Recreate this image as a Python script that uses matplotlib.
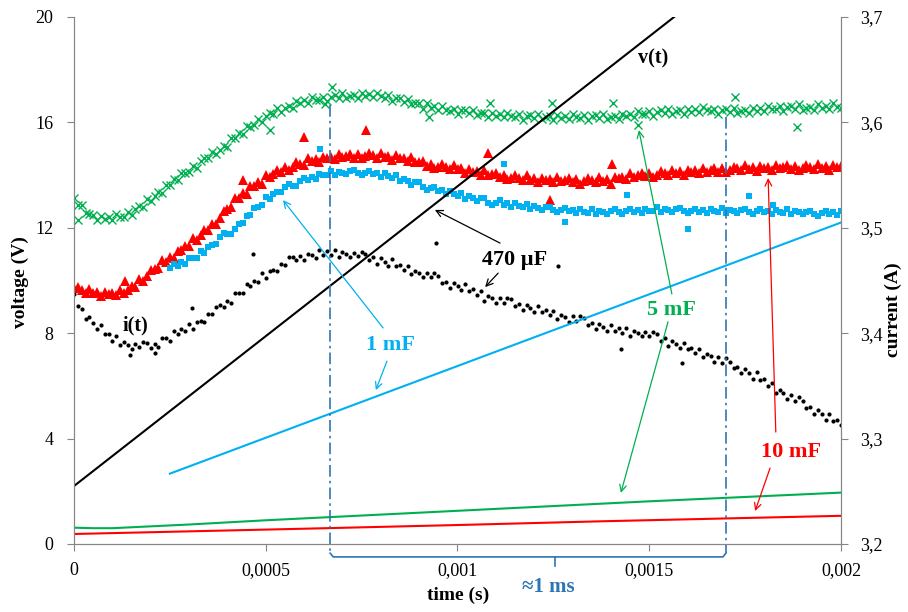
import numpy as np
import matplotlib
matplotlib.use("Agg")
import matplotlib.pyplot as plt

plt.rcParams['font.family'] = ['Liberation Serif', 'DejaVu Serif']

# scope sampling step (s)
dt = 10e-6

# supply current (A) for each capacitor, one sample every 10 us from t = 0
i_5mF = [
    3.528, 3.522, 3.522, 3.514, 3.513, 3.512, 3.507, 3.511, 3.508, 3.510,
    3.507, 3.513, 3.510, 3.510, 3.515, 3.512, 3.518, 3.521, 3.520, 3.527,
    3.525, 3.530, 3.534, 3.533, 3.541, 3.541, 3.546, 3.545, 3.552, 3.552,
    3.553, 3.559, 3.557, 3.563, 3.566, 3.566, 3.572, 3.570, 3.574, 3.578,
    3.577, 3.585, 3.585, 3.590, 3.589, 3.597, 3.596, 3.598, 3.603, 3.600,
    3.606, 3.609, 3.608, 3.614, 3.610, 3.614, 3.616, 3.614, 3.620, 3.618,
    3.621, 3.618, 3.624, 3.621, 3.621, 3.624, 3.620, 3.624, 3.626, 3.623,
    3.628, 3.623, 3.625, 3.626, 3.623, 3.628, 3.625, 3.627, 3.624, 3.628,
    3.625, 3.623, 3.626, 3.620, 3.623, 3.623, 3.619, 3.622, 3.617, 3.618,
    3.618, 3.613, 3.618, 3.614, 3.616, 3.612, 3.616, 3.612, 3.611, 3.613,
    3.608, 3.612, 3.612, 3.609, 3.612, 3.607, 3.609, 3.609, 3.605, 3.609,
    3.606, 3.608, 3.605, 3.609, 3.606, 3.605, 3.608, 3.602, 3.606, 3.607,
    3.604, 3.608, 3.603, 3.605, 3.606, 3.602, 3.607, 3.604, 3.606, 3.603,
    3.608, 3.605, 3.604, 3.607, 3.602, 3.606, 3.607, 3.604, 3.608, 3.603,
    3.605, 3.606, 3.603, 3.608, 3.606, 3.608, 3.605, 3.611, 3.608, 3.608,
    3.611, 3.606, 3.610, 3.612, 3.609, 3.613, 3.608, 3.611, 3.612, 3.608,
    3.613, 3.610, 3.613, 3.610, 3.615, 3.612, 3.611, 3.613, 3.608, 3.612,
    3.613, 3.610, 3.614, 3.609, 3.611, 3.612, 3.609, 3.614, 3.611, 3.614,
    3.611, 3.616, 3.613, 3.613, 3.616, 3.611, 3.615, 3.616, 3.613, 3.617,
    3.612, 3.614, 3.615, 3.612, 3.617, 3.614, 3.616, 3.613, 3.618, 3.615,
    3.614,
]
i_10mF = [
    3.443, 3.444, 3.441, 3.438, 3.442, 3.438, 3.439, 3.435, 3.439, 3.437,
    3.438, 3.436, 3.441, 3.438, 3.441, 3.445, 3.444, 3.451, 3.450, 3.454,
    3.460, 3.461, 3.462, 3.469, 3.468, 3.472, 3.471, 3.478, 3.479, 3.483,
    3.483, 3.490, 3.488, 3.493, 3.498, 3.498, 3.504, 3.504, 3.509, 3.516,
    3.518, 3.520, 3.528, 3.528, 3.533, 3.532, 3.540, 3.540, 3.543, 3.542,
    3.550, 3.548, 3.551, 3.555, 3.553, 3.558, 3.555, 3.558, 3.562, 3.561,
    3.560, 3.566, 3.563, 3.565, 3.562, 3.567, 3.566, 3.567, 3.565, 3.570,
    3.567, 3.568, 3.570, 3.566, 3.570, 3.566, 3.568, 3.571, 3.569, 3.566,
    3.571, 3.567, 3.568, 3.564, 3.569, 3.566, 3.566, 3.563, 3.567, 3.562,
    3.562, 3.563, 3.559, 3.561, 3.557, 3.558, 3.561, 3.558, 3.556, 3.560,
    3.556, 3.557, 3.552, 3.556, 3.553, 3.554, 3.550, 3.555, 3.550, 3.551,
    3.552, 3.548, 3.550, 3.546, 3.547, 3.550, 3.547, 3.545, 3.550, 3.545,
    3.547, 3.543, 3.547, 3.545, 3.546, 3.543, 3.548, 3.544, 3.545, 3.547,
    3.543, 3.546, 3.542, 3.544, 3.547, 3.545, 3.543, 3.548, 3.544, 3.546,
    3.542, 3.548, 3.547, 3.548, 3.546, 3.552, 3.548, 3.550, 3.552, 3.549,
    3.552, 3.548, 3.550, 3.554, 3.552, 3.550, 3.555, 3.552, 3.554, 3.550,
    3.555, 3.553, 3.555, 3.552, 3.557, 3.553, 3.555, 3.557, 3.553, 3.557,
    3.553, 3.555, 3.558, 3.557, 3.555, 3.560, 3.556, 3.558, 3.554, 3.559,
    3.557, 3.558, 3.555, 3.560, 3.557, 3.558, 3.560, 3.556, 3.559, 3.555,
    3.557, 3.560, 3.558, 3.556, 3.561, 3.557, 3.559, 3.555, 3.560, 3.558,
    3.559,
]
# 1 mF record starts at 0.25 ms
t0_1mF = 0.00025
i_1mF = [
    3.462, 3.466, 3.464, 3.468, 3.466, 3.471, 3.471, 3.471, 3.478, 3.476,
    3.482, 3.484, 3.485, 3.491, 3.495, 3.494, 3.494, 3.499, 3.504, 3.505,
    3.511, 3.512, 3.519, 3.520, 3.522, 3.529, 3.527, 3.532, 3.534, 3.534,
    3.539, 3.542, 3.540, 3.540, 3.544, 3.547, 3.545, 3.548, 3.546, 3.551,
    3.550, 3.550, 3.554, 3.550, 3.553, 3.552, 3.551, 3.554, 3.555, 3.552,
    3.550, 3.552, 3.554, 3.551, 3.552, 3.548, 3.552, 3.549, 3.547, 3.550,
    3.544, 3.546, 3.544, 3.541, 3.543, 3.543, 3.539, 3.536, 3.538, 3.539,
    3.535, 3.536, 3.532, 3.535, 3.532, 3.530, 3.533, 3.527, 3.530, 3.528,
    3.525, 3.528, 3.528, 3.524, 3.522, 3.524, 3.526, 3.522, 3.524, 3.520,
    3.524, 3.521, 3.520, 3.523, 3.518, 3.521, 3.519, 3.517, 3.520, 3.520,
    3.517, 3.515, 3.517, 3.519, 3.516, 3.517, 3.514, 3.518, 3.515, 3.514,
    3.518, 3.513, 3.516, 3.515, 3.513, 3.516, 3.518, 3.515, 3.513, 3.516,
    3.518, 3.515, 3.517, 3.514, 3.518, 3.516, 3.516, 3.520, 3.515, 3.518,
    3.517, 3.515, 3.518, 3.519, 3.516, 3.514, 3.516, 3.518, 3.515, 3.517,
    3.514, 3.518, 3.516, 3.515, 3.519, 3.514, 3.517, 3.516, 3.514, 3.517,
    3.518, 3.515, 3.513, 3.516, 3.518, 3.515, 3.516, 3.513, 3.517, 3.515,
    3.514, 3.518, 3.513, 3.516, 3.515, 3.513, 3.515, 3.516, 3.513, 3.511,
    3.514, 3.516, 3.513, 3.515, 3.512, 3.516,
]
i_470uF = [
    3.437, 3.426, 3.423, 3.413, 3.415, 3.410, 3.404, 3.408, 3.399, 3.399,
    3.393, 3.397, 3.389, 3.392, 3.389, 3.385, 3.390, 3.387, 3.392, 3.391,
    3.386, 3.390, 3.387, 3.395, 3.395, 3.393, 3.402, 3.399, 3.404, 3.402,
    3.409, 3.404, 3.411, 3.412, 3.411, 3.418, 3.418, 3.425, 3.427, 3.425,
    3.431, 3.429, 3.438, 3.438, 3.438, 3.447, 3.445, 3.450, 3.449, 3.457,
    3.452, 3.459, 3.460, 3.459, 3.466, 3.465, 3.472, 3.472, 3.469, 3.473,
    3.469, 3.475, 3.474, 3.471, 3.479, 3.474, 3.478, 3.474, 3.479, 3.472,
    3.477, 3.475, 3.472, 3.476, 3.473, 3.477, 3.475, 3.469, 3.472, 3.466,
    3.471, 3.468, 3.464, 3.470, 3.464, 3.465, 3.460, 3.464, 3.456, 3.459,
    3.457, 3.453, 3.457, 3.453, 3.457, 3.454, 3.448, 3.449, 3.443, 3.448,
    3.445, 3.441, 3.447, 3.440, 3.442, 3.436, 3.440, 3.431, 3.435, 3.433,
    3.429, 3.433, 3.429, 3.433, 3.432, 3.426, 3.428, 3.422, 3.427, 3.424,
    3.420, 3.426, 3.420, 3.422, 3.417, 3.421, 3.413, 3.417, 3.415, 3.411,
    3.416, 3.412, 3.416, 3.414, 3.408, 3.410, 3.404, 3.409, 3.406, 3.402,
    3.408, 3.402, 3.405, 3.400, 3.405, 3.397, 3.402, 3.400, 3.397, 3.401,
    3.397, 3.401, 3.399, 3.393, 3.395, 3.388, 3.393, 3.390, 3.386, 3.391,
    3.385, 3.386, 3.381, 3.385, 3.377, 3.380, 3.378, 3.373, 3.377, 3.372,
    3.376, 3.373, 3.367, 3.368, 3.362, 3.366, 3.362, 3.357, 3.363, 3.356,
    3.357, 3.350, 3.353, 3.343, 3.346, 3.343, 3.338, 3.341, 3.336, 3.339,
    3.336, 3.329, 3.330, 3.323, 3.327, 3.323, 3.318, 3.323, 3.317, 3.318,
    3.313,
]

# stray samples (time s, current A)
stray_5mF_t = [0.00001, 0.000511, 0.000654, 0.000673, 0.000926, 0.001085,
               0.001246, 0.001405, 0.001471, 0.001724, 0.001885]
stray_5mF_i = [3.507, 3.593, 3.617, 3.634, 3.605, 3.618,
               3.618, 3.618, 3.598, 3.624, 3.596]
stray_10mF_t = [0.000133, 0.000441, 0.000600, 0.000761, 0.001080, 0.001241, 0.001403]
stray_10mF_i = [3.450, 3.545, 3.586, 3.593, 3.571, 3.526, 3.561]
stray_1mF_t = [0.000641, 0.001121, 0.001280, 0.001442, 0.001601, 0.001760, 0.001823]
stray_1mF_i = [3.575, 3.5605, 3.5055, 3.531, 3.499, 3.530, 3.522]
stray_470uF_t = [0.000146, 0.000211, 0.000308, 0.000467, 0.000944, 0.001262,
                 0.001426, 0.001585]
stray_470uF_i = [3.379, 3.381, 3.424, 3.475, 3.486, 3.464, 3.385, 3.372]

# capacitor voltage v(t) (V)
tv_470uF = [0, 0.0008, 0.0016]
v_470uF = [2.2, 11.3, 20.4]
tv_1mF = [0.00025, 0.002]
v_1mF = [2.67, 12.2]
tv_5mF = [0, 0.00005, 0.0001, 0.0003, 0.0005, 0.001, 0.0015, 0.002]
v_5mF = [0.62, 0.60, 0.60, 0.74, 0.90, 1.26, 1.62, 1.95]
tv_10mF = [0, 0.0006, 0.001, 0.00137, 0.002]
v_10mF = [0.38, 0.58, 0.72, 0.86, 1.07]

# one oscillation period of the 470 uF current
period_start, period_end = 0.000668, 0.0017
period_mid = 0.001254

x_ticks = [0, 0.0005, 0.001, 0.0015, 0.002]
x_labels = ['0', '0,0005', '0,001', '0,0015', '0,002']
v_ticks = [0, 4, 8, 12, 16, 20]
i_ticks = [3.2, 3.3, 3.4, 3.5, 3.6, 3.7]
i_labels = ['3,2', '3,3', '3,4', '3,5', '3,6', '3,7']

GREEN = '#00B050'
RED = '#FF0000'
CYAN = '#00B0F0'
BRACE = '#2E75B6'
GREY = '#868686'

fig = plt.figure(figsize=(9.08, 6.12), dpi=100)
ax = fig.add_axes([74 / 908, 68 / 612, 767 / 908, 527 / 612])
ax2 = ax.twinx()

t_full = np.arange(len(i_470uF)) * dt
t_1mF = t0_1mF + np.arange(len(i_1mF)) * dt

# current samples on the right axis
ax2.plot(t_full, i_5mF, ls='none', marker='x', ms=5.5, mew=1.0, color=GREEN)
ax2.plot(stray_5mF_t, stray_5mF_i, ls='none', marker='x', ms=5.5, mew=1.0, color=GREEN)
ax2.plot(t_full, i_10mF, ls='none', marker='^', ms=6.5, mew=0, color=RED)
ax2.plot(stray_10mF_t, stray_10mF_i, ls='none', marker='^', ms=6.5, mew=0, color=RED)
ax2.plot(t_1mF, i_1mF, ls='none', marker='s', ms=4.8, mew=0, color=CYAN)
ax2.plot(stray_1mF_t, stray_1mF_i, ls='none', marker='s', ms=4.8, mew=0, color=CYAN)
ax2.plot(t_full, i_470uF, ls='none', marker='o', ms=3.0, mew=0, color='black')
ax2.plot(stray_470uF_t, stray_470uF_i, ls='none', marker='o', ms=3.0, mew=0, color='black')

# voltages on the left axis, drawn above the samples
ax.set_zorder(ax2.get_zorder() + 1)
ax.patch.set_visible(False)
ax.plot(tv_470uF, v_470uF, color='black', lw=1.5)
ax.plot(tv_1mF, v_1mF, color=CYAN, lw=1.5)
ax.plot(tv_5mF, v_5mF, color=GREEN, lw=1.5)
ax.plot(tv_10mF, v_10mF, color=RED, lw=1.5)

# period markers and brace below the time axis
dashdot = (0, (7, 2.5, 1.5, 2.5))
ax.plot([period_start, period_start], [16.66, -0.35], color=BRACE, lw=1.2,
        ls=dashdot, clip_on=False)
ax.plot([period_end, period_end], [16.2, -0.35], color=BRACE, lw=1.2,
        ls=dashdot, clip_on=False)
ax.plot([period_start, period_start + 0.000008, period_end - 0.000008, period_end],
        [-0.35, -0.49, -0.49, -0.35], color=BRACE, lw=1.2, clip_on=False)
ax.plot([period_mid, period_mid], [-0.49, -0.85], color=BRACE, lw=1.2, clip_on=False)
ax.text(0.001237, -1.62, '≈1 ms', color=BRACE, fontsize=15, fontweight='bold',
        ha='center', va='center', family=['Liberation Serif', 'DejaVu Serif'])

ax.set_xlim(0, 0.002)
ax.set_ylim(0, 20)
ax2.set_ylim(3.2, 3.7)
ax.set_xticks(x_ticks)
ax.set_xticklabels(x_labels)
ax.set_yticks(v_ticks)
ax.set_yticklabels([str(v) for v in v_ticks])
ax2.set_yticks(i_ticks)
ax2.set_yticklabels(i_labels)

for a in (ax, ax2):
    a.spines['top'].set_visible(False)
    for s in ('left', 'right', 'bottom'):
        a.spines[s].set_color(GREY)
ax.tick_params(axis='x', direction='out', length=5, color=GREY, labelsize=13, pad=8)
ax.tick_params(axis='y', direction='out', length=5, color=GREY, labelsize=13, pad=10)
ax2.tick_params(axis='y', direction='out', length=5, color=GREY, labelsize=13, pad=9)

fig.text(20 / 908, 1 - 282 / 612, 'voltage (V)', rotation=90, ha='center', va='center',
         fontsize=14, fontweight='bold')
fig.text(893 / 908, 1 - 310 / 612, 'current (A)', rotation=90, ha='center', va='center',
         fontsize=14, fontweight='bold')
fig.text(458 / 908, 1 - 595 / 612, 'time (s)', ha='center', va='center',
         fontsize=14, fontweight='bold')

# curve labels
ax.text(0.001510, 18.41, 'v(t)', fontsize=14.5, fontweight='bold', ha='center', va='center')
ax.text(0.000159, 8.31, 'i(t)', fontsize=14.5, fontweight='bold', ha='center', va='center')
ax.text(0.00115, 10.78, '470 µF', fontsize=16, fontweight='bold', ha='center', va='center')
ax.text(0.000824, 7.55, '1 mF', fontsize=16, fontweight='bold', ha='center', va='center',
        color=CYAN)
ax.text(0.001557, 8.88, '5 mF', fontsize=16, fontweight='bold', ha='center', va='center',
        color=GREEN)
ax.text(0.00187, 3.49, '10 mF', fontsize=16, fontweight='bold', ha='center', va='center',
        color=RED)

arrows = [
    ((0.001111, 11.42), (0.000941, 12.68), 'black'),
    ((0.001106, 10.28), (0.001072, 9.75), 'black'),
    ((0.000806, 8.20), (0.000545, 13.05), CYAN),
    ((0.000816, 6.94), (0.000787, 5.84), CYAN),
    ((0.001559, 9.49), (0.001473, 15.71), GREEN),
    ((0.001549, 8.43), (0.001426, 1.94), GREEN),
    ((0.00183, 4.25), (0.00181, 13.89), RED),
    ((0.001815, 2.88), (0.001776, 1.25), RED),
]
for tail, head, c in arrows:
    ax.annotate('', xy=head, xytext=tail,
                arrowprops=dict(arrowstyle='->', color=c, lw=0.9,
                                shrinkA=0, shrinkB=0, mutation_scale=12))

fig.savefig('out.png', dpi=100)
